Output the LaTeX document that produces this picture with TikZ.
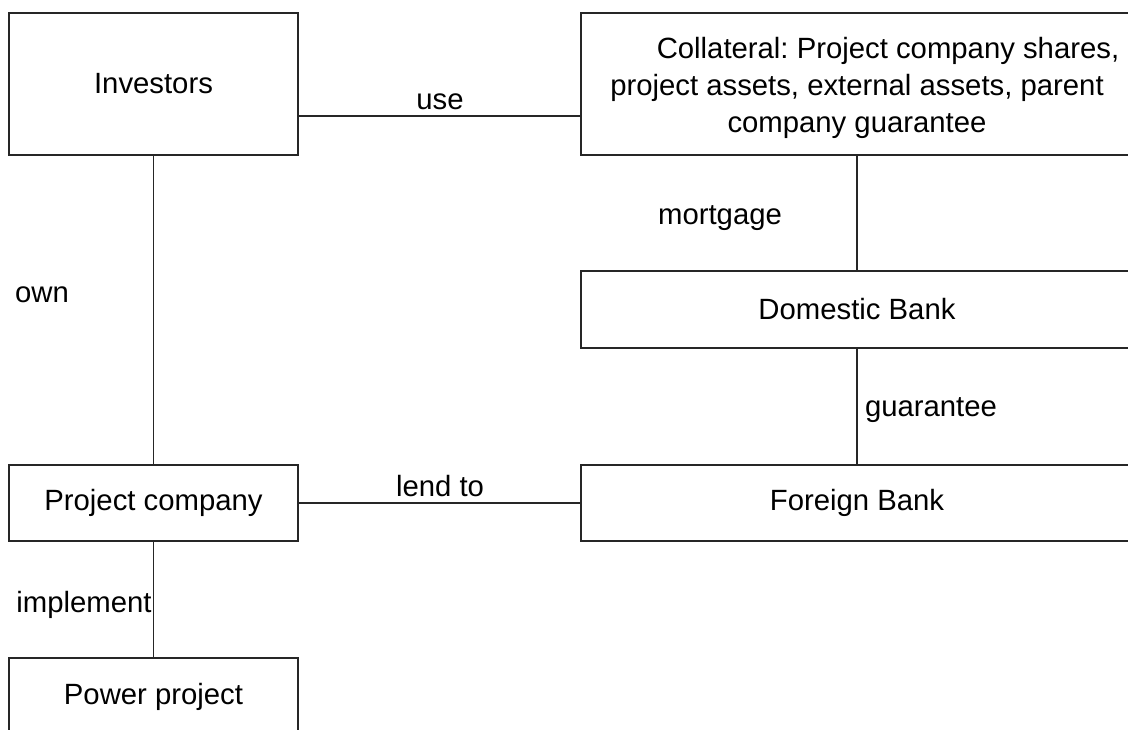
\documentclass[tikz,border=0pt]{standalone}
\usepackage{fontspec}
\setmainfont{Liberation Sans}
\frenchspacing
\begin{document}
\begin{tikzpicture}[x=1pt,y=-1pt,
  box/.style={draw=black!85,line width=1.8pt,rectangle,inner sep=0pt,
    font=\fontsize{29.3}{37}\selectfont,align=center},
  lbl/.style={font=\fontsize{29.3}{37}\selectfont,anchor=base,inner sep=0pt},
  conn/.style={draw=black!85,line width=1.8pt}]
\useasboundingbox (0,0) rectangle (1128,729);
\begin{scope}
\clip (0,0) rectangle (1128,729);
\node[box,minimum width=289pt,minimum height=142pt] (inv) at (153.5,84) {Investors};
\node[box,minimum width=552pt,minimum height=142pt,
  label={[font=\fontsize{29.3}{37}\selectfont,align=center,inner sep=0pt,yshift=-3.5pt]center:\hspace*{62pt}Collateral: Project company shares,\\project assets, external assets, parent\\company guarantee}] (coll) at (857,84) {};
\node[box,minimum width=552pt,minimum height=77pt] (dom) at (857,309.5) {Domestic Bank};
\node[box,minimum width=552pt,minimum height=76pt] (for) at (857,503) {Foreign Bank};
\node[box,minimum width=289pt,minimum height=76pt] (pc) at (153.5,503) {Project company};
\node[box,minimum width=289pt,minimum height=78pt] (pp) at (153.5,697) {Power project};
\draw[conn] (inv.south) -- (pc.north);
\draw[conn] ([yshift=-32pt]inv.east) -- ([yshift=-32pt]coll.west);
\draw[conn] (coll.south) -- (dom.north);
\draw[conn] (dom.south) -- (for.north);
\draw[conn] (pc.east) -- (for.west);
\draw[conn] (pc.south) -- (pp.north);
\node[lbl] (l1) at (440,109) {use};
\node[lbl] (l2) at (720,224) {mortgage};
\node[lbl] (l3) at (42,302) {own};
\node[lbl] (l4) at (931,416) {guarantee};
\node[lbl] (l5) at (440,496) {lend to};
\node[lbl] (l6) at (84,612) {implement};
\end{scope}
\end{tikzpicture}
\end{document}
